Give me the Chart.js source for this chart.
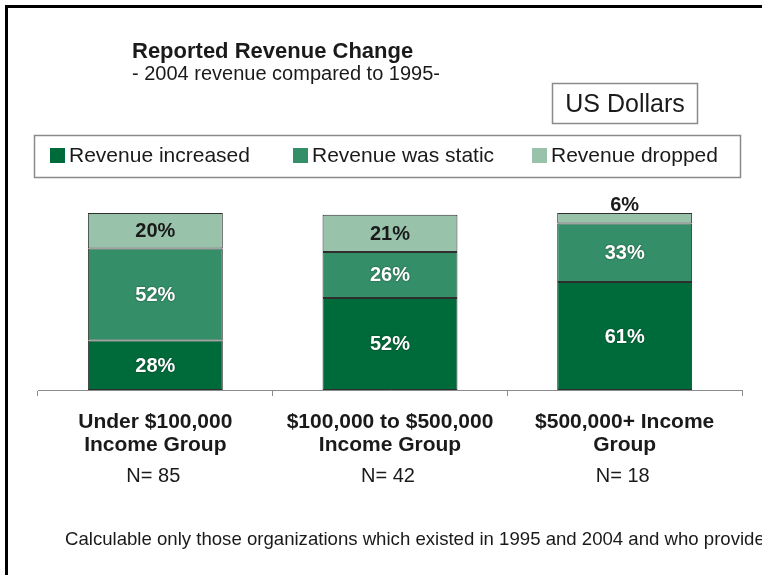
<!DOCTYPE html>
<html>
<head>
<meta charset="utf-8">
<script src="https://cdn.jsdelivr.net/npm/chart.js@4"></script>
<style>
  html, body { margin: 0; padding: 0; background: #fff; }
  #wrap { width: 762px; height: 575px; position: relative; }
</style>
</head>
<body>
<div id="wrap"><canvas id="revenueChart"></canvas></div>
<script>
// data
const categories = [
  ['Under $100,000', 'Income Group'],
  ['$100,000 to $500,000', 'Income Group'],
  ['$500,000+ Income', 'Group']
];
const sampleSizes = ['N= 85', 'N= 42', 'N= 18'];
const seriesNames = ['Revenue increased', 'Revenue was static', 'Revenue dropped'];
const increased = [28, 52, 61];
const staticRev = [52, 26, 33];
const dropped = [20, 21, 6];

const titleText = 'Reported Revenue Change';
const subtitleText = '- 2004 revenue compared to 1995-';
const unitText = 'US Dollars';
const footnoteText = 'Calculable only those organizations which existed in 1995 and 2004 and who provided';

const FONT = '"Liberation Sans", Arial, sans-serif';
const colors = ['#006b3a', '#348f68', '#98c2a9'];
const labelColors = ['#ffffff', '#ffffff', '#1a1a1a'];

// everything around the bars: frame, titles, boxes, labels
const decorations = {
  id: 'decorations',
  beforeDraw(chart) {
    const c = chart.ctx;
    c.save();
    c.fillStyle = '#fff';
    c.fillRect(0, 0, chart.width, chart.height);
    c.restore();
  },
  afterDatasetsDraw(chart) {
    const c = chart.ctx;
    c.save();
    c.font = 'bold 20px ' + FONT;
    c.textAlign = 'center';
    chart.data.datasets.forEach((ds, di) => {
      const meta = chart.getDatasetMeta(di);
      meta.data.forEach((bar, i) => {
        const v = ds.data[i];
        const h = Math.abs(bar.base - bar.y);
        c.fillStyle = labelColors[di];
        if (h < 22) {
          // too thin, put it on top of the bar
          c.fillStyle = '#1a1a1a';
          c.textBaseline = 'alphabetic';
          c.fillText(v + '%', bar.x, bar.y - 2);
        } else {
          c.textBaseline = 'middle';
          if (di < 2) {
            c.shadowColor = 'rgba(0,0,0,0.5)';
            c.shadowBlur = 2;
          }
          c.fillText(v + '%', bar.x, (bar.y + bar.base) / 2 + 1);
          c.shadowBlur = 0;
        }
      });
    });
    c.restore();
  },
  afterDraw(chart) {
    const c = chart.ctx;
    const x = chart.scales.x;
    c.save();

    // frame
    c.fillStyle = '#000';
    c.fillRect(5, 5, chart.width - 5, 3);
    c.fillRect(5, 5, 3, chart.height - 5);

    // title
    c.fillStyle = '#1a1a1a';
    c.textAlign = 'left';
    c.textBaseline = 'alphabetic';
    c.font = 'bold 22px ' + FONT;
    c.fillText(titleText, 132, 58);
    c.font = '20px ' + FONT;
    c.fillText(subtitleText, 132, 80);

    // unit box
    c.strokeStyle = '#8a8a8a';
    c.lineWidth = 1.5;
    c.strokeRect(552.5, 83.5, 145, 40);
    c.font = '25px ' + FONT;
    c.textAlign = 'center';
    c.fillText(unitText, 625, 112);

    // legend box
    c.strokeRect(34.5, 135.5, 706, 42);
    const legendX = [50, 293, 532];
    c.textAlign = 'left';
    c.font = '21px ' + FONT;
    seriesNames.forEach((name, i) => {
      c.fillStyle = colors[i];
      c.fillRect(legendX[i], 148, 15, 15);
      c.fillStyle = '#1a1a1a';
      c.fillText(name, legendX[i] + 19, 162);
    });

    // category labels
    c.textAlign = 'center';
    categories.forEach((lines, i) => {
      const cx = x.getPixelForValue(i);
      c.font = 'bold 21px ' + FONT;
      lines.forEach((ln, j) => c.fillText(ln, cx, 428 + j * 23));
      c.font = '20px ' + FONT;
      c.fillText(sampleSizes[i], cx - 2, 482);
    });

    // footnote (runs off the right edge like the original)
    c.textAlign = 'left';
    c.font = '18.6px ' + FONT;
    c.fillText(footnoteText, 65, 545);

    c.restore();
  }
};

const ctx = document.getElementById('revenueChart').getContext('2d');
new Chart(ctx, {
  type: 'bar',
  data: {
    labels: categories.map(l => l.join(' ')),
    datasets: [
      { label: seriesNames[0], data: increased, backgroundColor: colors[0] },
      { label: seriesNames[1], data: staticRev, backgroundColor: colors[1] },
      { label: seriesNames[2], data: dropped, backgroundColor: colors[2] }
    ].map(d => Object.assign(d, {
      borderColor: '#2e2e2e',
      borderWidth: 1,
      borderSkipped: false,
      barPercentage: 0.575,
      categoryPercentage: 1
    }))
  },
  options: {
    responsive: true,
    maintainAspectRatio: false,
    animation: false,
    layout: { padding: { left: 38, right: 20, top: 213, bottom: 0 } },
    plugins: {
      legend: { display: false },
      title: { display: false },
      tooltip: { enabled: false }
    },
    scales: {
      x: {
        stacked: true,
        grid: { drawOnChartArea: false, offset: true, color: '#8c8c8c', tickLength: 6 },
        border: { color: '#8c8c8c' },
        ticks: { display: false },
        afterFit(s) { s.height = 185; }
      },
      y: { stacked: true, display: false, min: 0, max: 100 }
    }
  },
  plugins: [decorations]
});
</script>
</body>
</html>
